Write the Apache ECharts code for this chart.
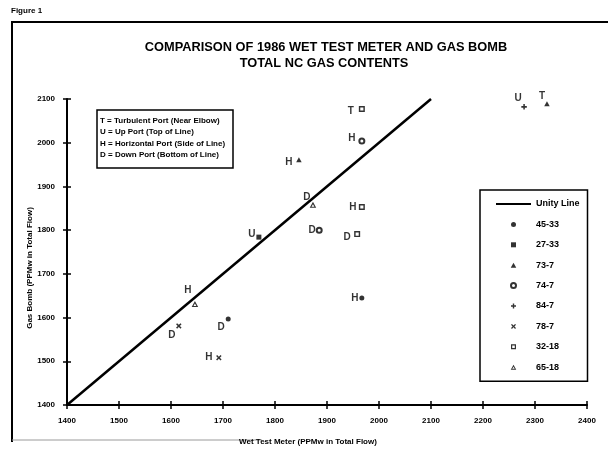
<!DOCTYPE html>
<html>
<head>
<meta charset="utf-8">
<script src="https://cdn.jsdelivr.net/npm/echarts@6/dist/echarts.min.js"></script>
<style>
  html, body { margin: 0; padding: 0; background: #fff; }
  #chart { width: 608px; height: 450px; }
</style>
</head>
<body>
<div id="chart"></div>
<script>
// Wet test meter (x) vs gas bomb (y), PPMw in total flow; third field is the sample port.
const test_45_33 = [[1967, 1645, 'H'], [1710, 1597, 'D']];
const test_27_33 = [[1769, 1784, 'U']];
const test_73_7  = [[2323, 2089, 'T'], [1846, 1961, 'H']];
const test_74_7  = [[1967, 2004, 'H'], [1885, 1800, 'D']];
const test_84_7  = [[2279, 2082, 'U']];
const test_78_7  = [[1615, 1581, 'D'], [1692, 1508, 'H']];
const test_32_18 = [[1967, 2077, 'T'], [1967, 1853, 'H'], [1958, 1791, 'D']];
const test_65_18 = [[1873, 1858, 'D'], [1646, 1631, 'H']];
const unityLine  = [[1400, 1400], [2100, 2100]];

const testNames = ['45-33', '27-33', '73-7', '74-7', '84-7', '78-7', '32-18', '65-18'];
const testData  = [test_45_33, test_27_33, test_73_7, test_74_7, test_84_7, test_78_7, test_32_18, test_65_18];
const titleLines = ['COMPARISON OF 1986 WET TEST METER AND GAS BOMB', 'TOTAL NC GAS CONTENTS'];
const portKey = [
  'T = Turbulent Port (Near Elbow)',
  'U = Up Port (Top of Line)',
  'H = Horizontal Port (Side of Line)',
  'D = Down Port (Bottom of Line)'
];

const FONT = 'Liberation Sans, Arial, sans-serif';

// marker shapes as fillable paths, so plot and legend draw the same thing
const SHAPE = {
  square:     'path://M0,0H10V10H0Z',
  triangle:   'path://M5,0L10,9H0Z',
  openSquare: 'path://M0,0H10V10H0Z M2.4,2.4V7.6H7.6V2.4Z',
  openTri:    'path://M5,0L10,9H0Z M5,3.8L2.8,7.5H7.2Z',
  plus:       'path://M-0.28,-1H0.28V-0.28H1V0.28H0.28V1H-0.28V0.28H-1V-0.28H-0.28Z',
  cross:      'path://M-1,-0.62L-0.62,-1L0,-0.38L0.62,-1L1,-0.62L0.38,0L1,0.62L0.62,1L0,0.38L-0.62,1L-1,0.62L-0.38,0Z',
  line:       'path://M0,0H35V2.2H0Z'
};

const markerStyle = {
  '45-33': { symbol: 'circle', size: 5 },
  '27-33': { symbol: SHAPE.square, size: 5 },
  '73-7':  { symbol: SHAPE.triangle, size: 5.5 },
  '74-7':  { symbol: 'emptyCircle', size: 5 },
  '84-7':  { symbol: SHAPE.plus, size: 5.5 },
  '78-7':  { symbol: SHAPE.cross, size: 5.5 },
  '32-18': { symbol: SHAPE.openSquare, size: 6 },
  '65-18': { symbol: SHAPE.openTri, size: 6.5 }
};

// where each port letter sits next to its marker (pixels from marker centre)
const letterOffset = {
  '45-33:H': [-7, 0],  '45-33:D': [-7, 8],
  '27-33:U': [-7, -3],
  '73-7:T':  [-5, -8], '73-7:H':  [-10, 2],
  '74-7:H':  [-10, -3], '74-7:D': [-7, 0],
  '84-7:U':  [-6, -9],
  '78-7:D':  [-7, 9],  '78-7:H':  [-10, -1],
  '32-18:T': [-11, 2], '32-18:H': [-9, 0], '32-18:D': [-10, 3],
  '65-18:D': [-6, -8], '65-18:H': [-7, -14]
};

const scatterSeries = testNames.map((name, i) => {
  const m = markerStyle[name];
  return {
    name: name,
    type: 'scatter',
    symbol: m.symbol,
    symbolSize: m.size,
    symbolKeepAspect: true,
    itemStyle: { color: '#000', borderColor: '#000', borderWidth: m.symbol === 'emptyCircle' ? 1.2 : 0 },
    label: {
      show: true,
      position: 'inside',
      formatter: p => p.value[2],
      color: '#000',
      fontFamily: FONT,
      fontWeight: 'bold',
      fontSize: 10
    },
    emphasis: { disabled: true },
    data: testData[i].map(p => ({
      value: p,
      label: { offset: letterOffset[name + ':' + p[2]] || [-8, 0] }
    }))
  };
});

const tickFont = { color: '#000', fontFamily: FONT, fontWeight: 'bold', fontSize: 8, formatter: v => String(v) };

const chart = echarts.init(document.getElementById('chart'), null, { renderer: 'canvas' });
chart.setOption({
  animation: false,
  backgroundColor: '#fff',
  title: [
    {
      text: portKey.join('\n'),
      left: 97,
      top: 110,
      padding: [5, 8, 7, 3],
      borderColor: '#000',
      borderWidth: 1.5,
      textStyle: { fontFamily: FONT, fontWeight: 'bold', fontSize: 8, lineHeight: 11.5, color: '#000' }
    },
    {
      text: 'Figure 1',
      left: 11,
      top: 7,
      padding: 0,
      textStyle: { fontFamily: FONT, fontWeight: 'bold', fontSize: 8, color: '#000' }
    }
  ],
  legend: {
    orient: 'vertical',
    left: 480,
    top: 190,
    padding: [7, 8, 7, 16],
    itemWidth: 35,
    itemHeight: 5,
    itemGap: 6.4,
    borderColor: '#000',
    borderWidth: 1.5,
    backgroundColor: '#fff',
    selectedMode: false,
    textStyle: { fontFamily: FONT, fontWeight: 'bold', fontSize: 9, lineHeight: 14, color: '#000' },
    data: [{ name: 'Unity Line', icon: SHAPE.line }].concat(
      testNames.map(n => ({ name: n, icon: markerStyle[n].symbol }))
    )
  },
  grid: { left: 67, right: 21, top: 99, bottom: 45 },
  xAxis: [
    {
      type: 'value', min: 1400, max: 2400, interval: 100, position: 'bottom',
      axisLine: { lineStyle: { color: '#000', width: 2 } },
      axisTick: { length: 4, lineStyle: { color: '#000', width: 1.5 } },
      axisLabel: Object.assign({ margin: 12 }, tickFont),
      splitLine: { show: false }
    },
    {
      type: 'value', min: 1400, max: 2400, interval: 100, position: 'bottom',
      axisLine: { show: false },
      axisTick: { inside: true, length: 4, lineStyle: { color: '#000', width: 1.5 } },
      axisLabel: { show: false },
      splitLine: { show: false }
    }
  ],
  yAxis: [
    {
      type: 'value', min: 1400, max: 2100, interval: 100, position: 'left',
      axisLine: { lineStyle: { color: '#000', width: 2 } },
      axisTick: { length: 4, lineStyle: { color: '#000', width: 1.5 } },
      axisLabel: Object.assign({ margin: 12 }, tickFont),
      splitLine: { show: false }
    },
    {
      type: 'value', min: 1400, max: 2100, interval: 100, position: 'left',
      axisLine: { show: false },
      axisTick: { inside: true, length: 4, lineStyle: { color: '#000', width: 1.5 } },
      axisLabel: { show: false },
      splitLine: { show: false }
    }
  ],
  graphic: [
    // chart title
    {
      type: 'text', x: 326, y: 47,
      style: { text: titleLines[0], align: 'center', verticalAlign: 'middle',
               fontFamily: FONT, fontWeight: 'bold', fontSize: 12.8, fill: '#000' }
    },
    {
      type: 'text', x: 324, y: 63,
      style: { text: titleLines[1], align: 'center', verticalAlign: 'middle',
               fontFamily: FONT, fontWeight: 'bold', fontSize: 12.8, fill: '#000' }
    },
    // figure frame
    { type: 'line', shape: { x1: 11, y1: 22, x2: 608, y2: 22 }, style: { stroke: '#000', lineWidth: 2 } },
    { type: 'line', shape: { x1: 12, y1: 22, x2: 12, y2: 442 }, style: { stroke: '#000', lineWidth: 2 } },
    { type: 'line', shape: { x1: 12, y1: 440, x2: 262, y2: 440 }, style: { stroke: '#9a9a9a', lineWidth: 1 } },
    // axis names
    {
      type: 'text', x: 308, y: 442,
      style: { text: 'Wet Test Meter (PPMw in Total Flow)', align: 'center', verticalAlign: 'middle',
               fontFamily: FONT, fontWeight: 'bold', fontSize: 8, fill: '#000' }
    },
    {
      type: 'text', x: 30, y: 268, rotation: Math.PI / 2,
      style: { text: 'Gas Bomb (PPMw in Total Flow)', align: 'center', verticalAlign: 'middle',
               fontFamily: FONT, fontWeight: 'bold', fontSize: 8, fill: '#000' }
    }
  ],
  series: [
    {
      name: 'Unity Line',
      type: 'line',
      data: unityLine,
      symbol: 'none',
      lineStyle: { color: '#000', width: 2.5 },
      itemStyle: { color: '#000' },
      emphasis: { disabled: true },
      z: 1
    }
  ].concat(scatterSeries)
});
</script>
</body>
</html>
